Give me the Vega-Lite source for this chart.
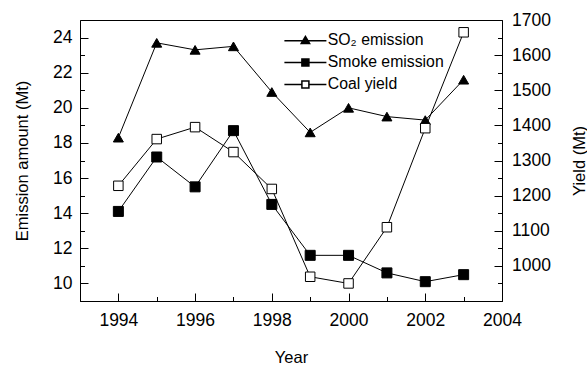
{
  "$schema": "https://vega.github.io/schema/vega-lite/v6.json",
  "width": 422,
  "height": 281,
  "autosize": {"type": "none"},
  "padding": {"left": 80, "top": 20, "right": 85, "bottom": 64},
  "background": "white",
  "config": {
    "font": "Liberation Sans",
    "view": {"stroke": "black", "strokeWidth": 1},
    "axis": {
      "grid": false,
      "domainColor": "black",
      "labelColor": "black",
      "titleColor": "black",
      "labelFont": "Liberation Sans",
      "titleFont": "Liberation Sans",
      "labelFontSize": 17.5,
      "titleFontSize": 16.5,
      "titleFontWeight": "normal",
      "labelOverlap": false,
      "labelFlush": false
    },
    "legend": {
      "labelFont": "Liberation Sans",
      "labelFontSize": 15.8,
      "labelColor": "black"
    }
  },
  "data": {
    "values": [
      {"year": 1994, "series": "SO₂ emission", "value": 18.3},
      {"year": 1995, "series": "SO₂ emission", "value": 23.7},
      {"year": 1996, "series": "SO₂ emission", "value": 23.3},
      {"year": 1997, "series": "SO₂ emission", "value": 23.5},
      {"year": 1998, "series": "SO₂ emission", "value": 20.9},
      {"year": 1999, "series": "SO₂ emission", "value": 18.6},
      {"year": 2000, "series": "SO₂ emission", "value": 20.0},
      {"year": 2001, "series": "SO₂ emission", "value": 19.5},
      {"year": 2002, "series": "SO₂ emission", "value": 19.3},
      {"year": 2003, "series": "SO₂ emission", "value": 21.6},
      {"year": 1994, "series": "Smoke emission", "value": 14.1},
      {"year": 1995, "series": "Smoke emission", "value": 17.2},
      {"year": 1996, "series": "Smoke emission", "value": 15.5},
      {"year": 1997, "series": "Smoke emission", "value": 18.7},
      {"year": 1998, "series": "Smoke emission", "value": 14.5},
      {"year": 1999, "series": "Smoke emission", "value": 11.6},
      {"year": 2000, "series": "Smoke emission", "value": 11.6},
      {"year": 2001, "series": "Smoke emission", "value": 10.6},
      {"year": 2002, "series": "Smoke emission", "value": 10.1},
      {"year": 2003, "series": "Smoke emission", "value": 10.5},
      {"year": 1994, "series": "Coal yield", "value": 1228},
      {"year": 1995, "series": "Coal yield", "value": 1361},
      {"year": 1996, "series": "Coal yield", "value": 1395},
      {"year": 1997, "series": "Coal yield", "value": 1324},
      {"year": 1998, "series": "Coal yield", "value": 1219},
      {"year": 1999, "series": "Coal yield", "value": 969},
      {"year": 2000, "series": "Coal yield", "value": 950},
      {"year": 2001, "series": "Coal yield", "value": 1110},
      {"year": 2002, "series": "Coal yield", "value": 1392},
      {"year": 2003, "series": "Coal yield", "value": 1665}
    ]
  },
  "encoding": {
    "x": {
      "field": "year",
      "type": "quantitative",
      "scale": {"domain": [1993, 2004], "nice": false, "zero": false},
      "axis": {
        "title": "Year",
        "tickCount": 11,
        "format": "d",
        "labelExpr": "datum.value % 2 == 0 ? datum.label : ''",
        "ticks": true,
        "tickSize": -8,
        "tickColor": "black",
        "tickDash": {"condition": {"test": "datum.value % 2 == 0", "value": [8, 2]}, "value": [4.5, 20]},
        "labelPadding": 18,
        "titlePadding": 21
      }
    }
  },
  "layer": [
    {
      "transform": [{"filter": "datum.series !== 'Coal yield'"}],
      "encoding": {
        "y": {
          "field": "value",
          "type": "quantitative",
          "scale": {"domain": [9, 25], "nice": false, "zero": false},
          "axis": {
            "title": "Emission amount (Mt)",
            "values": [10, 11, 12, 13, 14, 15, 16, 17, 18, 19, 20, 21, 22, 23, 24],
            "labelExpr": "datum.value % 2 == 0 ? datum.label : ''",
            "ticks": false,
            "grid": true,
            "gridColor": "black",
            "gridOpacity": 1,
            "gridWidth": 1,
            "gridDash": {"condition": {"test": "datum.value % 2 == 0", "value": [8, 1000]}, "value": [4.5, 1000]},
            "labelPadding": 8,
            "titlePadding": 22
          }
        }
      },
      "layer": [
        {
          "mark": {"type": "line", "color": "black", "strokeWidth": 1},
          "encoding": {"detail": {"field": "series"}}
        },
        {
          "mark": {"type": "point", "stroke": "black", "strokeWidth": 1, "opacity": 1, "size": 100},
          "encoding": {
            "shape": {
              "field": "series",
              "type": "nominal",
              "scale": {"domain": ["SO₂ emission", "Smoke emission", "Coal yield"], "range": ["triangle-up", "square", "square"]},
              "legend": null
            },
            "fill": {
              "field": "series",
              "type": "nominal",
              "scale": {"domain": ["SO₂ emission", "Smoke emission", "Coal yield"], "range": ["black", "black", "white"]},
              "legend": null
            }
          }
        }
      ]
    },
    {
      "transform": [{"filter": "datum.series === 'Coal yield'"}],
      "encoding": {
        "y": {
          "field": "value",
          "type": "quantitative",
          "scale": {"domain": [900, 1700], "nice": false, "zero": false},
          "axis": {
            "orient": "right",
            "title": "Yield (Mt)",
            "titleAngle": -90,
            "titleBaseline": "top",
            "values": [950, 1000, 1050, 1100, 1150, 1200, 1250, 1300, 1350, 1400, 1450, 1500, 1550, 1600, 1650, 1700],
            "labelExpr": "datum.value % 100 == 0 ? datum.label : ''",
            "ticks": false,
            "grid": true,
            "gridColor": "black",
            "gridOpacity": 1,
            "gridWidth": 1,
            "gridDash": {"condition": {"test": "datum.value % 100 == 0", "value": [8, 1000]}, "value": [4.5, 1000]},
            "format": "d",
            "labelPadding": 9.5,
            "titlePadding": 21
          }
        }
      },
      "layer": [
        {
          "mark": {"type": "line", "color": "black", "strokeWidth": 1},
          "encoding": {}
        },
        {
          "mark": {"type": "point", "stroke": "black", "strokeWidth": 1, "opacity": 1, "size": 90},
          "encoding": {
            "shape": {
              "field": "series",
              "type": "nominal",
              "scale": {"domain": ["SO₂ emission", "Smoke emission", "Coal yield"], "range": ["triangle-up", "square", "square"]},
              "legend": null
            },
            "fill": {
              "field": "series",
              "type": "nominal",
              "scale": {"domain": ["SO₂ emission", "Smoke emission", "Coal yield"], "range": ["black", "black", "white"]},
              "legend": null
            }
          }
        }
      ]
    },
    {
      "transform": [{"filter": "false"}],
      "mark": {"type": "point", "stroke": "black", "strokeWidth": 1, "opacity": 1, "size": 49},
      "encoding": {
        "shape": {
          "field": "series",
          "type": "nominal",
          "scale": {
            "domain": ["SO₂ emission", "Smoke emission", "Coal yield"],
            "range": ["M-6,0.1H6M0,-1.15L1.2,0.9L-1.2,0.9Z", "M-6,0H6M-1,-1H1V1H-1Z", "M-6,0H-1M1,0H6M-1,-1H1V1H-1Z"]
          },
          "legend": {
            "title": null,
            "orient": "none",
            "legendX": 217.5,
            "legendY": 12.5,
            "padding": 0,
            "symbolSize": 49,
            "labelOffset": 14.5,
            "rowPadding": 5
          }
        },
        "fill": {
          "field": "series",
          "type": "nominal",
          "scale": {"domain": ["SO₂ emission", "Smoke emission", "Coal yield"], "range": ["black", "black", "white"]},
          "legend": {
            "title": null,
            "orient": "none",
            "legendX": 217.5,
            "legendY": 12.5,
            "padding": 0,
            "symbolSize": 49,
            "labelOffset": 14.5,
            "rowPadding": 5
          }
        }
      }
    }
  ],
  "resolve": {
    "scale": {"y": "independent", "shape": "independent", "fill": "independent"},
    "legend": {"shape": "independent", "fill": "independent"}
  }
}
